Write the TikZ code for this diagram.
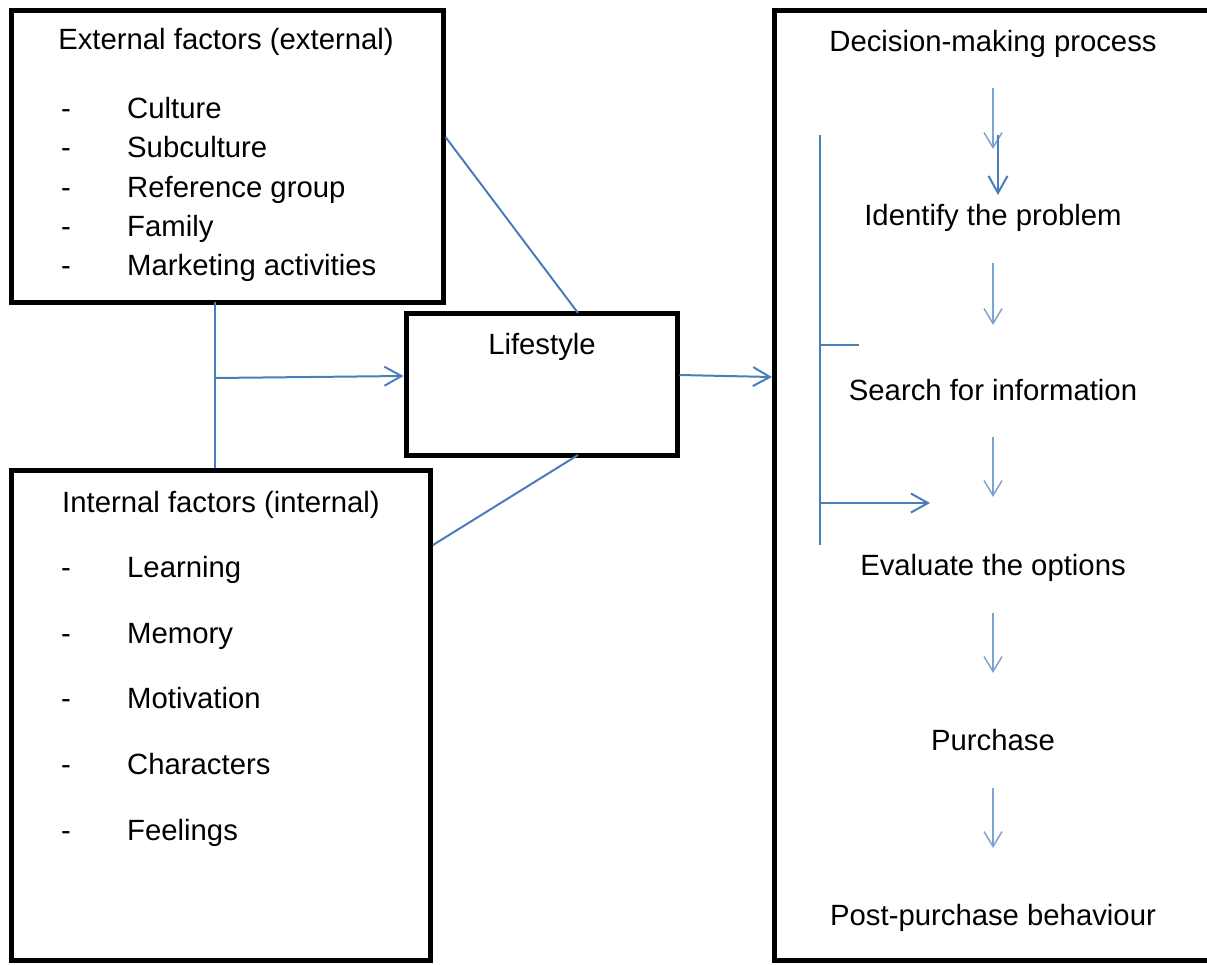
\documentclass[tikz,border=0pt]{standalone}
\usepackage{fontspec}
\setmainfont{Liberation Sans}
\usetikzlibrary{arrows.meta}
\definecolor{lineblue}{HTML}{4A7EBB}
\definecolor{lightblue}{HTML}{7FA3CF}
\tikzset{
  box/.style={draw=black, line width=5pt, inner sep=0pt, fill=none},
  txt/.style={inner sep=0pt, anchor=base, font=\fontsize{29.3}{35}\selectfont},
  ltxt/.style={inner sep=0pt, anchor=base west, font=\fontsize{29.3}{35}\selectfont},
  bline/.style={draw=lineblue, line width=2pt},
  barrow/.style={draw=lineblue, line width=2pt, -{Straight Barb[length=17pt,width=19pt,line width=2pt]}},
  larrow/.style={draw=lightblue, line width=1.5pt, -{Straight Barb[length=15pt,width=18pt,line width=1.5pt]}}
}
\begin{document}
\begin{tikzpicture}[x=1pt,y=-1pt]
\useasboundingbox (0,0) rectangle (1207,964);
% boxes
\node[box, minimum width=431.5pt, minimum height=291.5pt] (ext) at (227.25,156.25) {};
\node[box, minimum width=271pt, minimum height=142pt] (life) at (541.5,384) {};
\node[box, minimum width=419pt, minimum height=490pt] (int) at (221,715) {};
\node[box, minimum width=437.5pt, minimum height=949.5pt] (dec) at (993.25,485.25) {};
% external texts
\node[txt] (extt) at (226,49) {External factors (external)};
\foreach \y/\t [count=\i] in {118/Culture,157/Subculture,197/Reference group,236/Family,275/Marketing activities}{
  \node[txt] (ed\i) at (66,\y) {-};
  \node[ltxt] (ei\i) at (127,\y) {\t};
}
% internal texts
\node[txt] (intt) at (221,512) {Internal factors (internal)};
\foreach \y/\t [count=\i] in {577/Learning,643/Memory,708/Motivation,774/Characters,840/Feelings}{
  \node[txt] (id\i) at (66,\y) {-};
  \node[ltxt] (ii\i) at (127,\y) {\t};
}
% lifestyle
\node[txt] (lifet) at (542,354) {Lifestyle};
% decision texts
\node[txt] (d0) at (993,51) {Decision-making process};
\node[txt] (d1) at (993,225) {Identify the problem};
\node[txt] (d2) at (993,400) {Search for information};
\node[txt] (d3) at (993,575) {Evaluate the options};
\node[txt] (d4) at (993,750) {Purchase};
\node[txt] (d5) at (993,925) {Post-purchase behaviour};
% coordinates
\coordinate (extR) at (ext.east |- 0,137);
\coordinate (lifeTop) at (578,313);
\coordinate (lifeBot) at (578,455);
\coordinate (intR) at (int.east |- 0,545);
\coordinate (vTop) at (215,302);
\coordinate (vBot) at (215,468);
\coordinate (vMid) at (215,378);
\coordinate (lifeL) at (life.west |- 0,376);
\coordinate (lifeR) at (life.east |- 0,375);
\coordinate (decL) at (dec.west |- 0,377);
\coordinate (bTop) at (820,135);
\coordinate (bBot) at (820,545);
\coordinate (bTick) at (820,345);
\coordinate (bTickE) at (859,345);
\coordinate (bArr) at (820,503);
\coordinate (bArrE) at (930,503);
% connectors
\draw[bline] (extR) -- (lifeTop);
\draw[bline] (lifeBot) -- (intR);
\draw[bline] (vTop) -- (vBot);
\draw[barrow] (vMid) -- (lifeL);
\draw[barrow] (lifeR) -- (decL);
\draw[bline] (bTop) -- (bBot);
\draw[bline] (bTick) -- (bTickE);
\draw[barrow] (bArr) -- (bArrE);
% down arrows
\coordinate (a1s) at (993,88);  \coordinate (a1e) at (993,149);
\coordinate (a2s) at (998,135); \coordinate (a2e) at (998,195);
\coordinate (a3s) at (993,263); \coordinate (a3e) at (993,325);
\coordinate (a4s) at (993,437); \coordinate (a4e) at (993,497);
\coordinate (a5s) at (993,613); \coordinate (a5e) at (993,673);
\coordinate (a6s) at (993,788); \coordinate (a6e) at (993,848);
\draw[larrow] (a1s) -- (a1e);
\draw[barrow] (a2s) -- (a2e);
\draw[larrow] (a3s) -- (a3e);
\draw[larrow] (a4s) -- (a4e);
\draw[larrow] (a5s) -- (a5e);
\draw[larrow] (a6s) -- (a6e);
\end{tikzpicture}
\end{document}
